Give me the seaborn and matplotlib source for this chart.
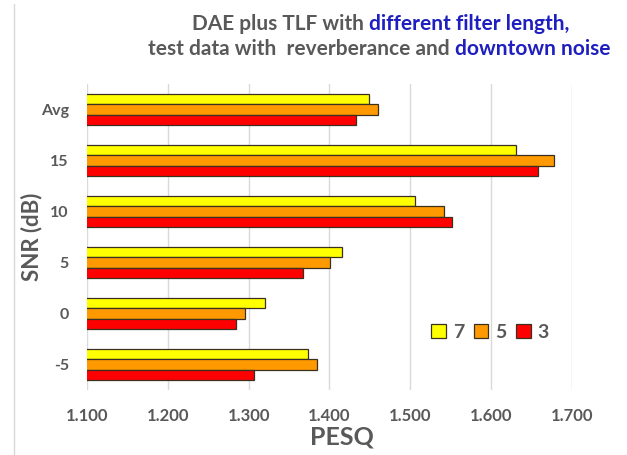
import matplotlib
matplotlib.use("Agg")
import matplotlib.pyplot as plt
from matplotlib.lines import Line2D
from matplotlib.patches import Patch
import pandas as pd
import seaborn as sns

# Werte
snr_levels = ["Avg", "15", "10", "5", "0", "-5"]
filter_lengths = ["7", "5", "3"]
pesq_7 = [1.449, 1.631, 1.506, 1.415, 1.320, 1.374]
pesq_5 = [1.460, 1.678, 1.542, 1.401, 1.296, 1.385]
pesq_3 = [1.433, 1.658, 1.551, 1.367, 1.284, 1.307]
x_ticks = [1.1, 1.2, 1.3, 1.4, 1.5, 1.6, 1.7]
x_tick_labels = ["1.100", "1.200", "1.300", "1.400", "1.500", "1.600", "1.700"]

bar_colors = ["#FFFF00", "#FF9900", "#FF0000"]
EDGE = "#3b3020"
GRAY = "#595959"
BLUE = "#1f1fbf"

sns.set_style("white")
plt.rcParams["font.family"] = ["Lato", "DejaVu Sans"]
plt.rcParams["font.weight"] = "bold"

df = pd.DataFrame({
    "snr": snr_levels * 3,
    "filter": [f for f in filter_lengths for _ in snr_levels],
    "pesq": pesq_7 + pesq_5 + pesq_3,
})

W, H = 627, 455
fig = plt.figure(figsize=(W / 100, H / 100), dpi=100)
ax = fig.add_axes([87 / W, 1 - 390 / H, (572 - 87) / W, (390 - 84) / H])

sns.barplot(data=df, x="pesq", y="snr", hue="filter", order=snr_levels,
            hue_order=filter_lengths, palette=bar_colors, saturation=1,
            orient="h", width=0.6, edgecolor=EDGE, linewidth=0.9, ax=ax,
            legend=False, zorder=3)

ax.set_xlim(1.1, 1.7)
ax.set_xticks(x_ticks)
ax.set_xticklabels(x_tick_labels)
ax.grid(axis="x", color="#d9d9d9", linewidth=1, zorder=0)
ax.set_axisbelow(True)
for s in ax.spines.values():
    s.set_visible(False)
ax.tick_params(axis="x", length=0, pad=13, labelsize=12, labelcolor=GRAY)
ax.tick_params(axis="y", length=0, pad=13, labelsize=11.5, labelcolor=GRAY)

ax.set_xlabel("PESQ", fontsize=18, color=GRAY, fontweight="bold")
ax.xaxis.set_label_coords((342 - 87) / (572 - 87), -(437 - 390) / (390 - 84))
ax.xaxis.label.set_va("center")
ax.set_ylabel("SNR (dB)", fontsize=16, color=GRAY, fontweight="bold")
ax.yaxis.set_label_coords(-(87 - 32) / (572 - 87), 0.5)
ax.yaxis.label.set_va("center")

# Legende
handles = [Patch(facecolor=c, edgecolor=EDGE, linewidth=0.9) for c in bar_colors]
ax.legend(handles, filter_lengths, ncol=3, frameon=False, fontsize=14,
          labelcolor=GRAY, handlelength=0.75, handleheight=0.75,
          handletextpad=0.35, columnspacing=0.5,
          loc="center", bbox_to_anchor=((490 - 87) / (572 - 87), 1 - (332 - 84) / (390 - 84)))

# Titel mit zweifarbigem Text
def colored_line(y_px, parts, cx_px, size=15):
    first = fig.text(0, 1 - y_px / H, parts[0][0], color=parts[0][1],
                     fontsize=size, fontweight="bold", va="baseline", ha="left")
    texts = [first]
    prev = first
    for s, c in parts[1:]:
        t = ax.annotate(s, xy=(1, 0), xycoords=prev, xytext=(3.6, 0),
                        textcoords="offset points", color=c, fontsize=size,
                        fontweight="bold", va="bottom", ha="left",
                        annotation_clip=False)
        texts.append(t)
        prev = t
    fig.canvas.draw()
    r = fig.canvas.get_renderer()
    x0 = min(t.get_window_extent(r).x0 for t in texts)
    x1 = max(t.get_window_extent(r).x1 for t in texts)
    first.set_x((cx_px - (x1 - x0) / 2) / W)

colored_line(30, [("DAE plus TLF with", GRAY), ("different filter length,", BLUE)], 381)
colored_line(55, [("test data with  reverberance and", GRAY), ("downtown noise", BLUE)], 379)

# linker Rand des Diagrammbereichs
fig.add_artist(Line2D([14 / W, 14 / W], [0, 1 - 4 / H], color="#d9d9d9", linewidth=1))

fig.savefig("out.png", dpi=100)
